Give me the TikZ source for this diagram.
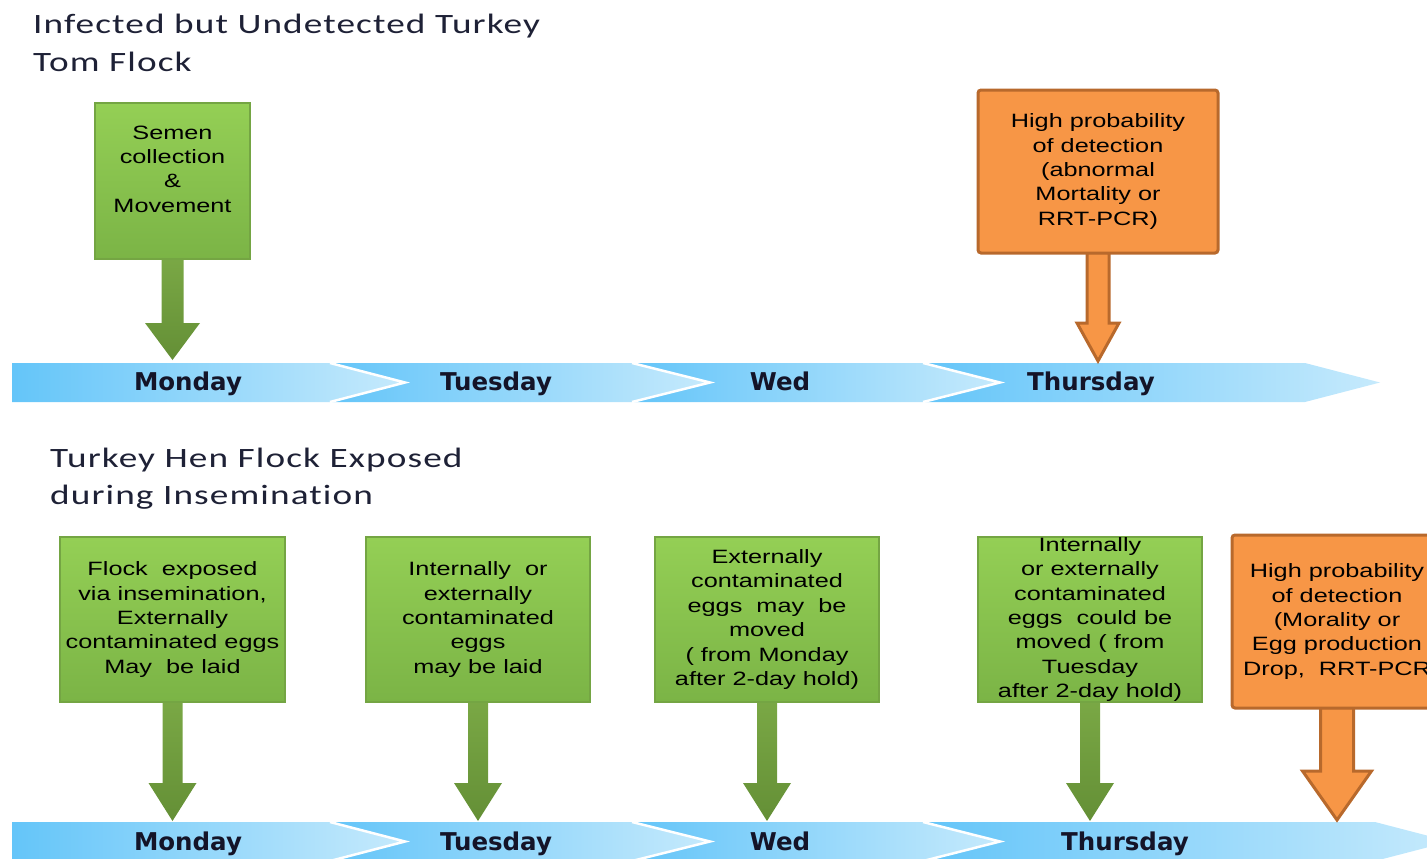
\documentclass[tikz,border=0pt]{standalone}
\usepackage{fontspec}
\usetikzlibrary{calc}

\newfontfamily\titlefont[FakeStretch=1.33,LetterSpace=4,Ligatures={NoCommon}]{Carlito}
\newfontfamily\boxfont[FakeStretch=1.31]{Liberation Sans}
\newfontfamily\dayfont{DejaVu Sans}
\newcommand\bxfont{\boxfont\fontsize{19.3}{24.4}\selectfont}

\definecolor{greentop}{HTML}{94CF55}
\definecolor{greenbot}{HTML}{7BB446}
\definecolor{greenedge}{HTML}{74A543}
\definecolor{arrowtop}{HTML}{7AA845}
\definecolor{arrowbot}{HTML}{648F36}
\definecolor{orangefill}{HTML}{F79646}
\definecolor{orangeedge}{HTML}{B8692C}
\definecolor{bardark}{RGB}{100,197,249}
\definecolor{barlight}{RGB}{198,234,252}
\definecolor{daytext}{HTML}{141428}
\definecolor{titletext}{HTML}{1E2136}

\pgfdeclarelayer{bars}
\pgfdeclarelayer{arrows}
\pgfsetlayers{bars,arrows,main}

% one chevron segment: left x, left notch x, right corner x, tip x, top y, mid y, bottom y
\newcommand\chev[7]{\path[barseg] (#1,#5) -- (#3,#5) -- (#4,#6) -- (#3,#7) -- (#1,#7) -- (#2,#6) -- cycle;}
% white seam between two segments: corner x, tip x, top y, mid y, bottom y
\newcommand\seam[5]{\draw[seamline] (#1,#3) -- (#2,#4) -- (#1,#5);}
% block arrow from a box to a tip: style, box, tip, shaft half width, head half width, head length
\newcommand\blockarrow[6]{\path[#1] ($(#2.south)+(-#4,-2)$) -- ($(#3)+(-#4,-#6)$) -- ($(#3)+(-#5,-#6)$) -- (#3) -- ($(#3)+(#5,-#6)$) -- ($(#3)+(#4,-#6)$) -- ($(#2.south)+(#4,-2)$) -- cycle;}

\tikzset{
  barseg/.style={left color=bardark, right color=barlight},
  seamline/.style={draw=white, line width=2.5pt, line join=miter},
  daylabel/.style={font=\dayfont\bfseries\fontsize{24.5}{28}\selectfont, text=daytext, inner sep=0pt, anchor=base},
  title/.style={font=\titlefont\fontsize{28}{32}\selectfont, text=titletext, anchor=base west, inner sep=0pt},
  boxtext/.style={inner sep=0pt, align=center, font=\bxfont, text=black},
  greenbox/.style={draw=greenedge, line width=1.2pt, top color=greentop, bottom color=greenbot, boxtext},
  orangebox/.style={draw=orangeedge, line width=3pt, fill=orangefill, rounded corners=3pt, boxtext},
  greenarrow/.style={top color=arrowtop, bottom color=arrowbot},
  orangearrow/.style={fill=orangefill, draw=orangeedge, line width=3pt, line join=miter},
}

\begin{document}
\begin{tikzpicture}[x=1pt,y=-1pt]
\useasboundingbox (0,0) rectangle (1427,859);
\clip (0,0) rectangle (1427,859);

% titles
\node[title] (t1a) at (33,34) {Infected but Undetected Turkey};
\node[title] (t1b) at (33,71) {Tom Flock};
\node[title] (t2a) at (50,467) {Turkey Hen Flock Exposed};
\node[title] (t2b) at (50,504) {during Insemination};

\begin{pgfonlayer}{bars}
% upper time line
\chev{12}{12}{330}{405}{363}{382.5}{402}
\chev{330}{405}{632}{710}{363}{382.5}{402}
\chev{632}{710}{923}{1000}{363}{382.5}{402}
\chev{923}{1000}{1305}{1380}{363}{382.5}{402}
\seam{330}{405}{363}{382.5}{402}
\seam{632}{710}{363}{382.5}{402}
\seam{923}{1000}{363}{382.5}{402}
\node[daylabel] (dm1) at (188,390) {Monday};
\node[daylabel] (dt1) at (496,390) {Tuesday};
\node[daylabel] (dw1) at (780,390) {Wed};
\node[daylabel] (dh1) at (1091,390) {Thursday};

% lower time line
\chev{12}{12}{330}{405}{822}{841.5}{861}
\chev{330}{405}{632}{710}{822}{841.5}{861}
\chev{632}{710}{923}{1000}{822}{841.5}{861}
\chev{923}{1000}{1375}{1450}{822}{841.5}{861}
\seam{330}{405}{822}{841.5}{861}
\seam{632}{710}{822}{841.5}{861}
\seam{923}{1000}{822}{841.5}{861}
\node[daylabel] (dm2) at (188,850) {Monday};
\node[daylabel] (dt2) at (496,850) {Tuesday};
\node[daylabel] (dw2) at (780,850) {Wed};
\node[daylabel] (dh2) at (1125,850) {Thursday};
\end{pgfonlayer}

% event boxes, upper flock
\node[greenbox, minimum width=155pt, minimum height=156pt] (semen) at (172.5,181) {};
\node[boxtext] (semenText) at ($(semen.center)+(0,-12)$) {Semen\\collection\\\&\\Movement};
\node[orangebox, minimum width=240pt, minimum height=163pt] (detA) at (1098,171.5)
  {High probability\\of detection\\ (abnormal\\Mortality or\\ RRT-PCR)};

% event boxes, lower flock
\node[greenbox, minimum width=225pt, minimum height=165pt] (mon) at (172.5,619.5)
  {Flock~ exposed\\via insemination,\\Externally\\contaminated eggs\\May~ be laid};
\node[greenbox, minimum width=224pt, minimum height=165pt] (tue) at (478,619.5)
  {Internally~ or\\externally\\contaminated\\eggs\\may be laid};
\node[greenbox, minimum width=224pt, minimum height=165pt] (wed) at (767,619.5)
  {Externally\\contaminated\\eggs~ may~ be\\moved\\( from Monday\\after 2-day hold)};
\node[greenbox, minimum width=224pt, minimum height=165pt] (thu) at (1090,619.5)
  {Internally\\or externally\\contaminated\\eggs~ could be\\moved ( from\\Tuesday\\after 2-day hold)};
\node[orangebox, minimum width=210pt, minimum height=173pt] (detB) at (1337,621.5)
  {High probability\\of detection\\(Morality or\\Egg production\\Drop,~ RRT-PCR};

% arrow tips on the time lines
\coordinate (upper) at (0,360);
\coordinate (upperO) at (0,361);
\coordinate (lower) at (0,821);
\coordinate (lowerO) at (0,820);
\coordinate (tipSemen) at (semen.south |- upper);
\coordinate (tipDetA) at (detA.south |- upperO);
\coordinate (tipMon) at (mon.south |- lower);
\coordinate (tipTue) at (tue.south |- lower);
\coordinate (tipWed) at (wed.south |- lower);
\coordinate (tipThu) at (thu.south |- lower);
\coordinate (tipDetB) at (detB.south |- lowerO);

\begin{pgfonlayer}{arrows}
\blockarrow{greenarrow}{semen}{tipSemen}{11}{27.5}{37}
\blockarrow{orangearrow}{detA}{tipDetA}{11}{21}{38}
\blockarrow{greenarrow}{mon}{tipMon}{10}{24}{38}
\blockarrow{greenarrow}{tue}{tipTue}{10}{24}{38}
\blockarrow{greenarrow}{wed}{tipWed}{10}{24}{38}
\blockarrow{greenarrow}{thu}{tipThu}{10}{24}{38}
\blockarrow{orangearrow}{detB}{tipDetB}{16.5}{34.5}{49}
\end{pgfonlayer}
\end{tikzpicture}
\end{document}
